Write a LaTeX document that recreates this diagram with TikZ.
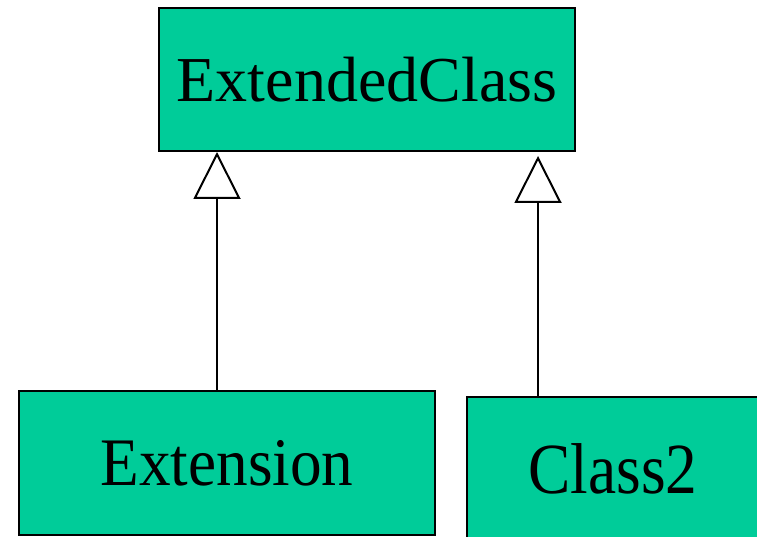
\documentclass[tikz,border=0pt]{standalone}
\usepackage{fontspec}
\setmainfont{Liberation Serif}
\usetikzlibrary{arrows.meta}
\definecolor{classgreen}{RGB}{0,204,153}
\begin{document}
\begin{tikzpicture}[x=1pt,y=-1pt,line width=2pt,
    >={Triangle[open,length=47pt,width=47pt,line width=2pt]}]
  \tikzstyle{cls}=[draw, fill=classgreen, inner sep=0pt, minimum width=416pt, minimum height=144pt]

  \useasboundingbox (0,0) rectangle (757,537);
  \clip (0,0) rectangle (757,537);

  \node[cls, minimum height=143pt] (ext) at (367,79.5) {\fontsize{64}{70}\selectfont ExtendedClass};
  \node[cls] (extension) at (227,463) {\scalebox{0.93}[1]{\fontsize{68}{74}\selectfont Extension}};
  \node[cls, minimum width=292pt] (class2) at (613,469) {\scalebox{0.88}[1]{\fontsize{72}{78}\selectfont Class2}};

  % inheritance arrows
  \draw[->] ([xshift=-10pt]extension.north) -- ([xshift=-10pt]extension.north |- ext.south);
  \coordinate (tip2) at ([yshift=-4pt]ext.south);
  \draw[->] ([xshift=-75pt]class2.north) -- ([xshift=-75pt]class2.north |- tip2);
\end{tikzpicture}
\end{document}
